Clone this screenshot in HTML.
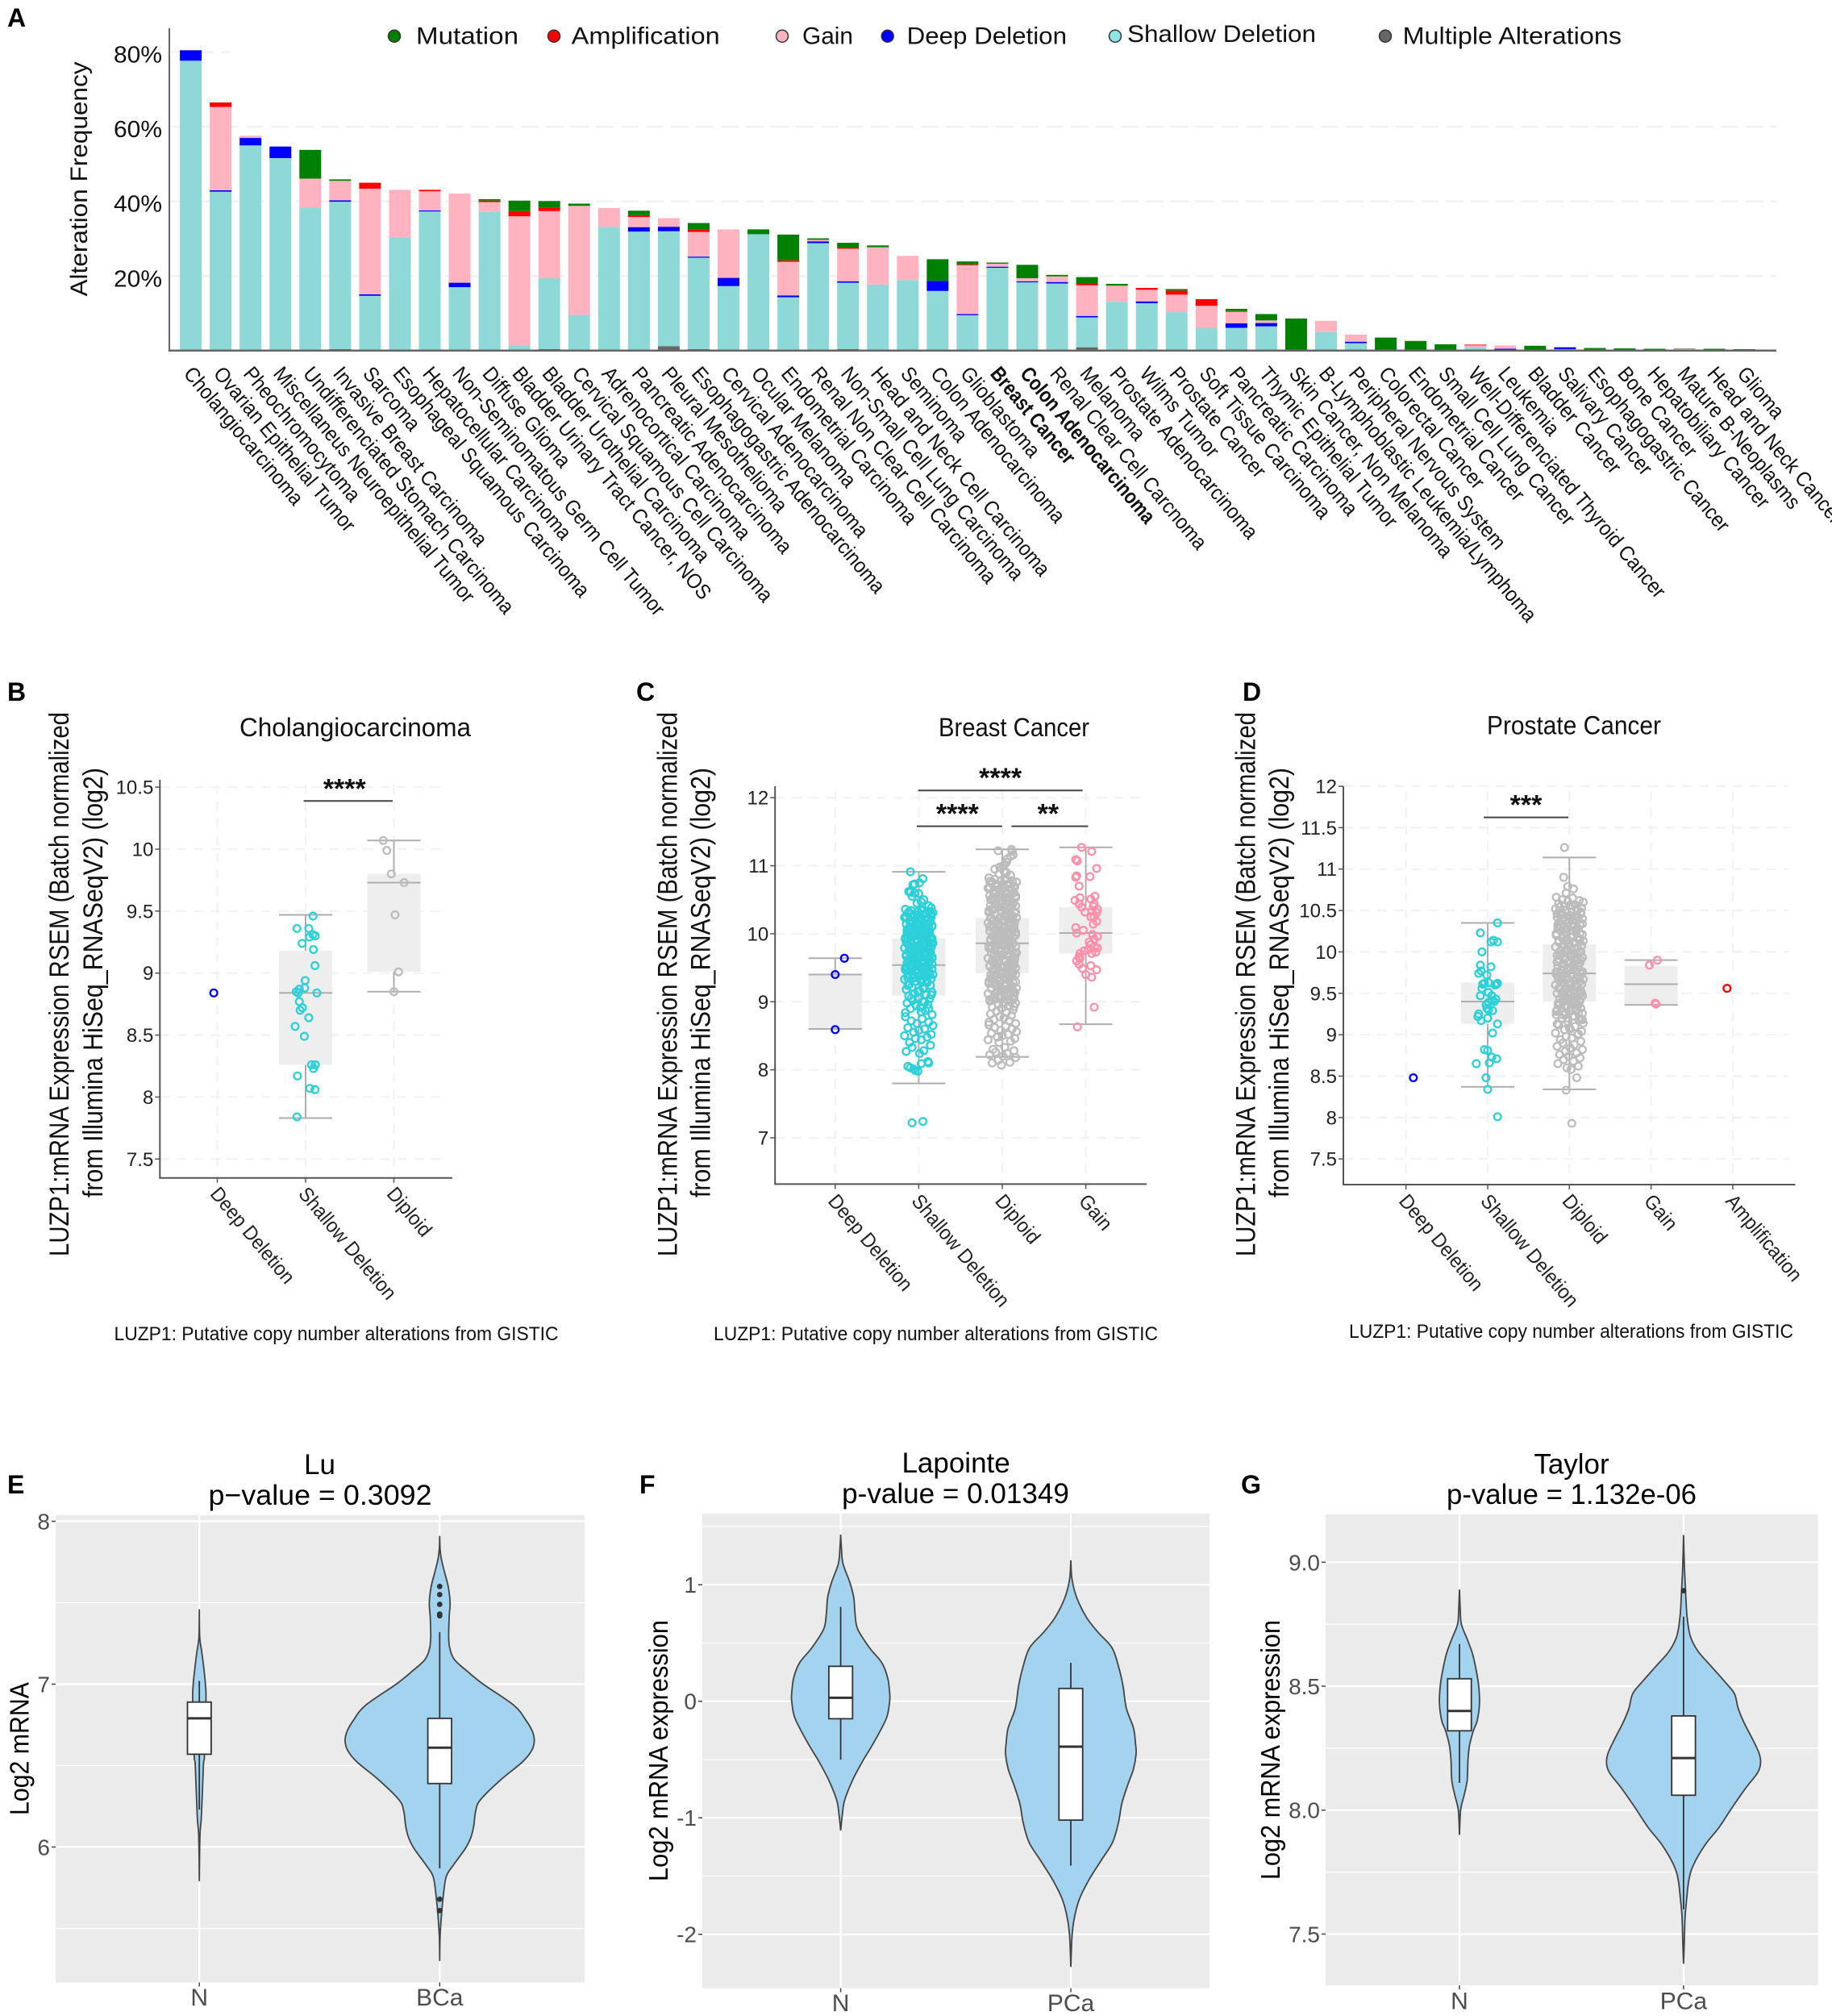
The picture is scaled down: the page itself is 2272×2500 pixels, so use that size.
<!DOCTYPE html>
<html lang="en">
<head>
<meta charset="utf-8">
<title>LUZP1 alteration frequency and expression</title>
<style>
html,body{margin:0;padding:0;background:#fff}
svg{display:block}
text{font-family:"Liberation Sans",Arial,sans-serif}
</style>
</head>
<body>
<svg id="figure" xmlns="http://www.w3.org/2000/svg" width="2272" height="2500" viewBox="0 0 2272 2500"></svg>
<script>
/* ---------- Panel A data ---------- */
const categories = ["Cholangiocarcinoma","Ovarian Epithelial Tumor","Pheochromocytoma","Miscellaneus Neuroepithelial Tumor","Undifferenciated Stomach Carcinoma","Invasive Breast Carcinoma","Sarcoma","Esophageal Squamous Carcinoma","Hepatocellular Carcinoma","Non-Seminomatous Germ Cell Tumor","Diffuse Glioma","Bladder Urinary Tract Cancer, NOS","Bladder Urothelial Carcinoma","Cervical Squamous Cell Carcinoma","Adrenocortical Carcinoma","Pancreatic Adenocarcinoma","Pleural Mesothelioma","Esophagogastric Adenocarcinoma","Cervical  Adenocarcinoma","Ocular Melanoma","Endometrial Carcinoma","Renal Non Clear Cell Carcinoma","Non-Small Cell Lung Carcinoma","Head and Neck Cell Carcinoma","Seminoma","Colon Adenocarcinoma","Glioblastoma","Breast Cancer","Colon Adenocarcinoma","Renal Clear Cell Carcnoma","Melanoma","Prostate Adenocarcinoma","Wilms Tumor","Prostate Cancer","Soft Tissue Carcinoma","Pancreatic Carcinoma","Thymic Epithelial Tumor","Skin Cancer, Non Melanoma","B-Lymphoblastic Leukemia/Lymphoma","Peripheral Nervous System","Colorectal Cancer","Endometrial Cancer","Small Cell Lung Cancer","Well-Differenciated Thyroid Cancer","Leukemia","Bladder Cancer","Salivary  Cancer","Esophagogastric Cancer","Bone Cancer","Hepatobiliary Cancer","Mature B-Neoplasms","Head and Neck Cancer","Glioma"];
const boldCategoryIndexes = [27,28];
const multipleAlterations = [0,0,0,0,0,.4,0,0,0,0,0,0,.4,0,0,0,1.2,.4,0,0,.3,0,.4,0,0,0,0,0,0,0,.9,0,0,0,0,0,0,0,0,0,0,0,0,0,0,0,0,0,0,0,0,0,0];
const shallowDeletion = [77.7,42.6,55,51.6,38.3,39.5,14.7,30.4,37.3,17,37.2,1.4,19,9.6,33.2,31.9,30.8,24.5,17.3,31.2,14,28.8,17.8,17.7,18.9,16,9.5,22.2,18.3,18,8,13.1,12.7,10.3,6,6.1,6.5,0,5,2,0,0,0,.9,0,0,.4,0,0,0,.3,0,0];
const deepDeletion = [2.8,.4,2,3.1,0,.4,.4,0,.3,1.2,0,0,0,0,0,1.2,1.2,.3,2.2,0,.5,.5,.4,0,0,2.7,.3,.3,.3,.4,.4,0,.5,0,0,1.2,.9,0,0,.4,0,0,0,0,.5,0,.5,0,0,0,0,0,0];
const gainValues = [0,22.3,.6,0,7.8,5.2,28.3,12.7,5.1,23.9,2.6,34.6,18,29.2,5,2.7,2.3,6.6,13,0,9,.4,8.7,10,6.5,0,13.1,.8,.8,1.5,8.2,4.3,3.1,4.7,6,3.1,.7,0,3,1.9,0,0,0,.5,.9,0,0,0,0,0,.2,0,0];
const amplificationValues = [0,1.2,0,0,0,0,1.6,0,.4,0,.4,1.4,1,0,0,.5,0,.6,0,0,.4,0,.2,0,0,0,.2,0,0,0,.5,0,.5,1.1,1.8,.2,0,0,0,0,0,0,0,.2,0,0,0,0,0,0,0,0,0];
const mutationValues = [0,0,0,0,7.7,.4,0,0,0,0,.4,2.8,1.7,.6,0,1.2,0,1.8,0,1.3,6.9,.4,1.4,.5,0,5.8,.8,.3,3.6,.4,1.7,.5,0,.4,0,.6,1.7,8.6,0,0,3.5,2.6,1.7,0,0,1.3,0,.7,.6,.5,.1,.5,.4];
const percentTicks = [20,40,60,80];
const legendLabels = ["Mutation","Amplification","Gain","Deep Deletion","Shallow Deletion","Multiple Alterations"];

/* ---------- Panel B data ---------- */
const bTicks = [7.5,8,8.5,9,9.5,10,10.5];
const bCategories = ["Deep Deletion","Shallow Deletion","Diploid"];
const bQ1 = [null,8.26,9.01];
const bMedian = [null,8.84,9.73];
const bQ3 = [null,9.18,9.8];
const bLow = [null,7.83,8.85];
const bHigh = [null,9.47,10.07];
const bDeepValues = [8.84];
const bDeepJitter = [-.04];
const bShallowValues = [9.46,9.36,9.36,9.31,9.30,9.29,9.24,9.19,9.06,8.94,8.88,8.87,8.85,8.84,8.84,8.77,8.72,8.70,8.64,8.57,8.49,8.26,8.26,8.23,8.17,8.07,8.06,7.84];
const bShallowJitter = [.084,-.098,.036,.084,.11,.044,-.04,.089,.106,-.005,-.01,-.071,-.106,-.084,.128,-.071,-.036,-.062,.036,-.119,-.014,.067,.11,.089,-.093,.048,.106,-.098];
const bDiploidValues = [10.07,9.99,9.80,9.73,9.47,9.01,8.85];
const bDiploidJitter = [-.12,-.08,-.03,.115,.013,.053,0];

/* ---------- Panel C data ---------- */
const cTicks = [7,8,9,10,11,12];
const cCategories = ["Deep Deletion","Shallow Deletion","Diploid","Gain"];
const cQ1 = [8.6,9.09,9.42,9.71];
const cMedian = [9.4,9.54,9.86,10.01];
const cQ3 = [9.4,9.93,10.23,10.39];
const cLow = [8.6,7.8,8.19,8.67];
const cHigh = [9.64,10.91,11.24,11.27];
const cDeepValues = [9.64,9.40,8.59];
const cDeepJitter = [.11,0,0];
const cloudJitter = [-.16,.04,-.09,.12,-.02,.17,-.13,.07,0,-.06,.15,-.17,.10,-.04,.03,-.11,.14,-.08,.06,-.15,.01,.16,-.05,.09,-.12,-.01,.13,-.07,.05,-.14,.11,-.03,.02,-.10,.08,-.16,.16];
const coreJitter = [.03,-.12,.09,-.05,.14,-.15,.01,.11,-.08,.06,-.02,.16,-.11,.04,-.14,.08,-.04,.13,-.07,.02,.10,-.13,.05,-.01,.15,-.09,.07,-.03,.12];
const cShallowTopValues = [10.91,10.81,10.75,10.73,10.72,10.62,10.61,10.60,10.59,10.55,10.50,10.47,10.45,10.41,10.38];
const cShallowTopJitter = [-.10,.05,.01,-.05,-.07,-.12,-.10,-.05,0,-.08,.06,.03,-.02,.12,.15];
const cShallowBottomValues = [8.12,8.10,8.09,8.05,8.03,8.01,7.99,7.98,7.24,7.22];
const cShallowBottomJitter = [.11,.12,.03,-.13,-.10,-.06,-.04,-.01,.05,-.08];
const cShallowValues = [10.36,10.35,10.34,10.33,10.32,10.31,10.30,10.29,10.28,10.26,10.25,10.24,10.23,10.21,10.20,10.19,10.18,10.17,10.15,10.14,10.13,10.11,10.10,10.09,10.08,10.07,10.05,10.04,10.03,10.02,10.00,9.99,9.98,9.97,9.96,9.94,9.93,9.92,9.91,9.90,9.88,9.87,9.86,9.85,9.84,9.82,9.81,9.80,9.79,9.77,9.76,9.75,9.74,9.73,9.71,9.70,9.69,9.68,9.66,9.65,9.64,9.63,9.62,9.60,9.59,9.58,9.57,9.55,9.54,9.53,9.52,9.50,9.49,9.48,9.47,9.45,9.44,9.43,9.42,9.40,9.39,9.38,9.37,9.35,9.34,9.33,9.31,9.30,9.28,9.26,9.24,9.22,9.20,9.18,9.16,9.14,9.12,9.10,9.08,9.06,9.04,9.02,9.00,8.98,8.96,8.94,8.92,8.90,8.87,8.84,8.81,8.78,8.75,8.72,8.70,8.68,8.65,8.62,8.60,8.58,8.55,8.52,8.50,8.48,8.46,8.44,8.40,8.36,8.33,8.28,8.27,8.24];
const cShallowCoreValues = [10.34,10.32,10.30,10.28,10.27,10.25,10.22,10.20,10.18,10.16,10.14,10.12,10.10,10.08,10.06,10.04,10.02,10.00,9.98,9.96,9.95,9.93,9.91,9.89,9.87,9.85,9.83,9.81,9.79,9.77,9.75,9.73,9.71,9.69,9.67,9.65,9.63,9.61,9.59,9.57,9.55,9.53,9.51,9.49,9.47,9.45,9.43,9.41,9.39,9.37,9.35,9.33,10.33,10.29,10.24,10.21,10.17,10.13,10.09,10.05,10.01,9.97,9.92,9.88,9.84,9.80,9.76,9.72,9.68,9.64,9.60,9.56,9.52,9.48,9.44,9.40,9.36,9.32,9.28,9.24,9.20,9.15,9.10,9.05,9.00,8.95,8.90,8.85];
const cDiploidTopValues = [11.24,11.22,11.21,11.16,11.14,11.10,11.05,11.02,11.00,10.98,10.95,10.92,10.90,10.88,10.86];
const cDiploidTopJitter = [.11,-.05,.12,.13,.10,.06,.05,.03,.01,-.03,-.09,.02,.05,-.04,.10];
const cDiploidValues = [10.82,10.81,10.80,10.78,10.77,10.76,10.74,10.73,10.72,10.70,10.69,10.67,10.66,10.65,10.63,10.62,10.60,10.59,10.58,10.56,10.55,10.53,10.52,10.51,10.49,10.48,10.46,10.45,10.44,10.42,10.41,10.39,10.38,10.37,10.35,10.34,10.32,10.31,10.30,10.28,10.27,10.25,10.24,10.23,10.21,10.20,10.18,10.17,10.16,10.14,10.13,10.11,10.10,10.09,10.07,10.06,10.04,10.03,10.02,10.00,9.99,9.97,9.96,9.95,9.93,9.92,9.90,9.89,9.88,9.86,9.85,9.83,9.82,9.81,9.79,9.78,9.76,9.75,9.74,9.72,9.71,9.69,9.68,9.67,9.65,9.64,9.62,9.61,9.60,9.58,9.57,9.55,9.54,9.53,9.51,9.50,9.48,9.47,9.46,9.44,9.43,9.41,9.40,9.39,9.37,9.36,9.34,9.33,9.32,9.30,9.29,9.27,9.26,9.25,9.23,9.22,9.20,9.19,9.18,9.16,9.15,9.13,9.12,9.11,9.09,9.08,9.06,9.05,9.04,9.02,9.01,8.99,8.98,8.96,8.94,8.92,8.90,8.88,8.86,8.84,8.82,8.80,8.78,8.76,8.74,8.72,8.70,8.68,8.66,8.64,8.62,8.60,8.58,8.56,8.54,8.52,8.50,8.48,8.46,8.44,8.42,8.40,8.33,8.30,8.28,8.26,8.24,8.22,8.20,8.18,8.14,8.11,8.10,8.07];
const cDiploidCoreValues = [10.78,10.76,10.74,10.72,10.70,10.68,10.66,10.64,10.62,10.60,10.58,10.56,10.54,10.52,10.50,10.48,10.46,10.44,10.42,10.40,10.38,10.36,10.34,10.32,10.30,10.28,10.26,10.24,10.22,10.20,10.18,10.16,10.14,10.12,10.10,10.08,10.06,10.04,10.02,10.00,9.98,9.96,9.94,9.92,9.90,9.88,9.86,9.84,9.82,9.80,9.78,9.76,9.74,9.72,9.70,9.68,9.66,9.64,9.62,9.60,9.58,9.56,9.54,9.52,9.50,9.48,9.46,9.44,9.42,9.40,9.38,9.36,9.34,9.32,9.30,9.28,9.26,9.24,9.22,9.20,9.18,9.16,9.14,9.12,9.10,9.08,9.06,9.04,9.02,9.00,8.97,8.93,10.77,10.71,10.65,10.59,10.53,10.47,10.41,10.35,10.29,10.23,10.17,10.11,10.05,9.99,9.93,9.87,9.81,9.75,9.69,9.63,9.57,9.51,9.45,9.39,9.33,9.27,9.21,9.15,9.09,9.03];
const cGainValues = [11.27,11.21,11.09,11.07,10.96,10.85,10.83,10.84,10.70,10.55,10.51,10.53,10.49,10.44,10.39,10.44,10.40,10.36,10.32,10.33,10.31,10.25,10.25,10.18,10.14,10.09,10.05,10.01,9.99,9.96,9.92,9.88,9.84,9.81,9.79,9.77,9.75,9.71,9.73,9.66,9.71,9.60,9.64,9.55,9.49,9.53,9.47,9.40,9.36,8.92,8.63];
const cGainJitter = [-.05,.07,-.12,-.10,.13,-.11,-.12,.05,-.08,.11,.06,-.07,-.13,-.08,-.05,.10,.09,.14,-.01,.07,.13,.06,.10,.13,.09,-.12,-.03,-.11,.08,.14,.10,.04,.06,.11,.14,.03,-.02,-.07,.12,-.08,.07,-.11,-.07,-.08,-.04,.06,.13,0,.07,.10,-.10];

/* ---------- Panel D data ---------- */
const dTicks = [7.5,8,8.5,9,9.5,10,10.5,11,11.5,12];
const dCategories = ["Deep Deletion","Shallow Deletion","Diploid","Gain","Amplification"];
const dQ1 = [null,9.13,9.40,9.36,null];
const dMedian = [null,9.40,9.74,9.61,null];
const dQ3 = [null,9.63,10.09,9.83,null];
const dLow = [null,8.37,8.34,9.36,null];
const dHigh = [null,10.35,11.14,9.90,null];
const dDeepValues = [8.48];
const dDeepJitter = [.09];
const dShallowValues = [10.35,10.23,10.12,10.14,10.12,10,9.84,9.82,9.74,9.77,9.72,9.62,9.63,9.61,9.61,9.62,9.60,9.56,9.47,9.51,9.47,9.43,9.41,9.39,9.36,9.40,9.32,9.30,9.29,9.25,9.22,9.17,9.20,9.13,9.02,8.82,8.81,8.73,8.71,8.65,8.66,8.48,8.34,8.01];
const dShallowJitter = [.12,-.09,.04,.07,.12,-.07,-.09,.04,-.11,-.08,-.01,-.04,.01,-.06,.11,.12,.09,-.07,-.09,.01,.05,.10,.05,.01,-.02,.08,-.01,.01,.06,-.11,-.12,-.08,0,.12,.06,-.04,0,.05,.11,-.14,.02,-.02,0,.12];
const dDiploidExtraValues = [11.26,10.90,10.79,10.76,10.71,8.48,8.33,7.93];
const dDiploidExtraJitter = [-.06,-.07,-.02,.05,-.04,.09,-.04,.03];
const dDiploidValues = [10.66,10.65,10.63,10.62,10.61,10.60,10.58,10.57,10.56,10.55,10.53,10.52,10.51,10.50,10.48,10.47,10.46,10.45,10.43,10.42,10.41,10.40,10.38,10.37,10.36,10.35,10.33,10.32,10.31,10.30,10.28,10.27,10.26,10.25,10.23,10.22,10.21,10.20,10.18,10.17,10.16,10.15,10.13,10.12,10.11,10.10,10.08,10.07,10.06,10.05,10.03,10.02,10.01,10.00,9.98,9.97,9.96,9.95,9.93,9.92,9.91,9.90,9.88,9.87,9.86,9.85,9.83,9.82,9.81,9.80,9.78,9.77,9.76,9.75,9.73,9.72,9.71,9.70,9.68,9.67,9.66,9.65,9.63,9.62,9.61,9.60,9.58,9.57,9.56,9.55,9.53,9.52,9.51,9.50,9.48,9.47,9.46,9.45,9.43,9.42,9.41,9.40,9.38,9.37,9.36,9.35,9.33,9.32,9.30,9.28,9.26,9.24,9.22,9.20,9.18,9.16,9.14,9.12,9.10,9.08,9.06,9.04,9.02,9.00,8.98,8.96,8.94,8.92,8.90,8.88,8.86,8.84,8.82,8.80,8.78,8.76,8.74,8.72,8.70,8.68,8.65,8.62,8.60,8.58];
const dDiploidCoreValues = [10.56,10.54,10.52,10.50,10.48,10.46,10.44,10.42,10.40,10.38,10.36,10.34,10.32,10.30,10.28,10.26,10.24,10.22,10.20,10.18,10.16,10.14,10.12,10.10,10.08,10.06,10.04,10.02,10.00,9.98,9.96,9.94,9.92,9.90,9.88,9.86,9.84,9.82,9.80,9.78,9.76,9.74,9.72,9.70,9.68,9.66,9.64,9.62,9.60,9.58,9.56,9.54,9.52,9.50,9.48,9.46,9.44,9.42,9.40,9.38,9.36,9.34,9.32,9.30,9.28,9.26,9.24,9.22,9.20,9.18,10.45,10.39,10.33,10.27,10.21,10.15,10.09,10.03,9.97,9.91,9.85,9.79,9.73,9.67,9.61,9.55,9.49,9.43,9.37,9.31,9.25,9.19,9.13,9.07,9.01];
const dGainValues = [9.90,9.84,9.38,9.37];
const dGainJitter = [.077,-.02,.05,.06];
const dAmpValues = [9.56];
const dAmpJitter = [-.07];

/* ---------- Panel E data ---------- */
const eTicks = [6,7,8];
const eMinorTicks = [5.5,6.5,7.5];
const eNValues = [7.46,7.29,7.20,7.11,6.99,6.89,6.57,6.52,6.41,6.29,6.17,6.06,5.79];
const eNDensity = [0,.004,.025,.045,.066,.07,.055,.045,.037,.029,.02,.006,0];
const eTumorValues = [7.91,7.83,7.77,7.69,7.60,7.50,7.41,7.29,7.22,7.15,7.08,7.00,6.87,6.78,6.71,6.65,6.59,6.52,6.41,6.29,6.22,6.13,6.06,5.99,5.89,5.82,5.71,5.59,5.45,5.30];
const eTumorDensity = [0,.004,.017,.05,.09,.11,.10,.095,.107,.157,.29,.46,.785,.91,.98,1,.97,.87,.64,.43,.38,.36,.33,.27,.145,.07,.04,.02,.004,0];
const eNBox = [6.23,6.57,6.79,6.89,7.02];
const eTumorBox = [5.87,6.39,6.61,6.79,7.32];
const eTumorOutliers = [7.60,7.55,7.49,7.43,7.42,5.68,5.61];

/* ---------- Panel F data ---------- */
const fTicks = [-2,-1,0,1];
const fMinorTicks = [-1.5,-.5,.5,1.5];
const fNValues = [1.43,1.31,1.18,1.02,.89,.75,.62,.46,.33,.20,.07,0,-.13,-.26,-.39,-.52,-.68,-.85,-.98,-1.11];
const fNDensity = [0,.012,.036,.14,.20,.22,.26,.44,.63,.72,.75,.75,.71,.60,.47,.33,.18,.06,.024,0];
const fTumorValues = [1.21,1.05,.89,.72,.59,.46,.30,.13,-.06,-.23,-.36,-.45,-.58,-.72,-.88,-1.04,-1.21,-1.37,-1.53,-1.70,-1.86,-2.02,-2.28];
const fTumorDensity = [0,.018,.09,.24,.42,.63,.73,.80,.85,.96,.99,1,.96,.87,.78,.73,.64,.46,.28,.13,.054,.018,0];
const fNBox = [-.50,-.15,.03,.30,.81];
const fTumorBox = [-1.41,-1.02,-.39,.11,.33];

/* ---------- Panel G data ---------- */
const gTicks = [7.5,8,8.5,9];
const gMinorTicks = [7.75,8.25,8.75];
const gNValues = [8.89,8.81,8.75,8.69,8.63,8.56,8.50,8.43,8.36,8.32,8.26,8.20,8.12,8.06,8.0,7.90];
const gNDensity = [0,.01,.025,.10,.17,.22,.25,.26,.23,.18,.13,.11,.10,.06,.015,0];
const gTumorValues = [9.11,8.99,8.89,8.78,8.70,8.64,8.58,8.52,8.47,8.41,8.35,8.29,8.23,8.19,8.15,8.09,8.01,7.93,7.86,7.78,7.72,7.64,7.57,7.47,7.38];
const gTumorDensity = [0,.01,.025,.046,.09,.19,.36,.53,.66,.71,.79,.89,.98,1,.96,.81,.63,.46,.28,.13,.07,.04,.02,.01,0];
const gNBox = [8.11,8.32,8.40,8.53,8.67];
const gTumorBox = [7.60,8.06,8.21,8.38,8.78];
const gTumorOutliers = [8.885];

/* ---------- helpers ---------- */
const NS = 'http://www.w3.org/2000/svg';
const root = document.getElementById('figure');
function add(parent, tag, attrs, content) {
  const n = document.createElementNS(NS, tag);
  for (const k in attrs) n.setAttribute(k, attrs[k]);
  if (content !== undefined) n.textContent = content;
  parent.appendChild(n);
  return n;
}
function slug(s) { return String(s).toLowerCase().replace(/[^a-z0-9]+/g, '-').replace(/^-|-$/g, ''); }
function group(name) {
  const g = add(root, 'g', {});
  
  
  return g;
}
function label(parent, name, s, x, y, opt) {
  const o = opt || {};
  const a = { x: x, y: y, 'font-size': o.size || 24, fill: o.fill || '#111' };
  if (o.anchor) a['text-anchor'] = o.anchor;
  if (o.weight) a['font-weight'] = o.weight;
  if (o.len) { a.textLength = o.len; a.lengthAdjust = 'spacingAndGlyphs'; }
  if (o.squeeze) {
    a.x = 0;
    a.y = 0;
    a.transform = 'translate(' + x + ' ' + y + ') rotate(' + o.rot + ') scale(' + o.squeeze + ' 1)';
  } else if (o.rot !== undefined) {
    a.transform = 'rotate(' + o.rot + ' ' + x + ' ' + y + ')';
  }
  const t = add(parent, 'text', a, s);
  
  
  return t;
}

/* ---------- Panel A ---------- */
(function () {
  const g = group('alteration-frequency-panel');
  const xA = i => 236.6 + i * 37.05;
  const yA = v => 434.8 - v * 4.627;
  label(g, 'panel-letter-a', 'A', 9, 33, { size: 32, weight: 'bold', fill: '#000' });
  percentTicks.forEach(t => {
    const full = t < 80;
    const line = add(g, 'line', { x1: 212, x2: full ? 2203 : 284, y1: yA(t), y2: yA(t), stroke: '#f2f2f2', 'stroke-width': 2.5, 'stroke-dasharray': '22 9' });
    
    
    label(g, 'y-tick-label-' + t, t + '%', 201, yA(t) + 13, { size: 29, anchor: 'end', len: 60 });
  });
  const seriesNames = ['multiple-alterations', 'shallow-deletion', 'deep-deletion', 'gain', 'amplification', 'mutation'];
  const seriesValues = [multipleAlterations, shallowDeletion, deepDeletion, gainValues, amplificationValues, mutationValues];
  const seriesColors = ['#666666', '#8fd8d8', '#0000ff', '#ffb3c1', '#ff0000', '#008000'];
  categories.forEach((c, i) => {
    let acc = 0;
    seriesValues.forEach((vals, s) => {
      const v = vals[i];
      if (!v) return;
      const r = add(g, 'rect', { x: xA(i) - 13.5, width: 27, y: yA(acc + v), height: yA(acc) - yA(acc + v), fill: seriesColors[s] });
      
      
      acc += v;
    });
    const opts = { size: 26, fill: '#111', rot: 50, squeeze: .905 };
    if (boldCategoryIndexes.indexOf(i) >= 0) { opts.weight = 'bold'; opts.squeeze = .84; }
    label(g, 'category-label-' + slug(c), c, xA(i) - 10, 464, opts);
  });
  const yAxis = add(g, 'line', { x1: 210, x2: 210, y1: 35, y2: 436, stroke: '#666', 'stroke-width': 2 });
  
  
  const xAxis = add(g, 'line', { x1: 209, x2: 2203, y1: 434.8, y2: 434.8, stroke: '#666', 'stroke-width': 2.5 });
  
  
  label(g, 'y-axis-title', 'Alteration Frequency', 108, 222, { size: 30, anchor: 'middle', len: 291, rot: -90 });
  const dotX = [489, 687, 970, 1100.7, 1383, 1718];
  const textX = [516, 708.7, 995, 1124.6, 1398, 1739.6];
  const textW = [127, 184, 63, 198.4, 234, 271.4];
  const textY = [54.7, 54.7, 54.7, 54.7, 52, 54.7];
  const dotC = ['#008000', '#ff0000', '#ffb3c1', '#0000ff', '#8fe6e6', '#666666'];
  legendLabels.forEach((l, i) => {
    const d = add(g, 'circle', { cx: dotX[i], cy: 44.8, r: 7.5, fill: dotC[i], stroke: '#333', 'stroke-width': 1.5 });
    
    
    label(g, 'legend-entry-' + slug(l), l, textX[i], textY[i], { size: 30, len: textW[i] });
  });
})();

/* ---------- Panels B C D ---------- */
const TEAL = '#2bd0d8', GRAY = '#bcbcbc', PINK = '#ff8fa8', BLUE = '#0000ff', RED = '#ff0000';
function boxPanel(c) {
  const g = group(c.name);
  const y = c.y;
  const x = i => c.catX0 + i * c.catStep;
  label(g, 'panel-letter-' + c.letter.toLowerCase(), c.letter, c.letterX, 869, { size: 32, weight: 'bold', fill: '#000' });
  label(g, 'chart-title', c.title, c.titleX, c.titleY, { size: 32, anchor: 'middle', len: c.titleW });
  label(g, 'y-axis-title-line-1', 'LUZP1:mRNA Expression RSEM (Batch normalized', c.l1, 1220.5, { size: 34, anchor: 'middle', len: 675, rot: -90 });
  label(g, 'y-axis-title-line-2', 'from Illumina HiSeq_RNASeqV2) (log2)', c.l2, 1218.5, { size: 34, anchor: 'middle', len: 533, rot: -90 });
  label(g, 'x-axis-title', 'LUZP1: Putative copy number alterations from GISTIC', c.xtX, c.xtY, { size: 24, len: 551 });
  c.ticks.forEach(t => {
    const gl = add(g, 'line', { x1: c.axisX, x2: c.axisR - 8, y1: y(t), y2: y(t), stroke: '#f2f2f2', 'stroke-width': 2, 'stroke-dasharray': '12 9' });
    
    
    const tk = add(g, 'line', { x1: c.axisX - 6, x2: c.axisX, y1: y(t), y2: y(t), stroke: '#555', 'stroke-width': 1.5 });
    
    
    label(g, 'y-tick-label-' + t, String(t), c.axisX - 8, y(t) + 8.5, { size: 24, anchor: 'end', fill: '#222' });
  });
  c.cats.forEach((n, i) => {
    const gl = add(g, 'line', { x1: x(i), x2: x(i), y1: c.top + 6, y2: c.base, stroke: '#f2f2f2', 'stroke-width': 2, 'stroke-dasharray': '12 9' });
    
    
  });
  c.cats.forEach((n, i) => {
    if (c.q1[i] !== null) {
      const b = add(g, 'rect', { x: x(i) - 33, width: 66, y: y(c.q3[i]), height: y(c.q1[i]) - y(c.q3[i]), fill: '#eeeeee' });
      
      
      const parts = [[x(i), y(c.high[i]), x(i), y(c.q3[i])], [x(i), y(c.q1[i]), x(i), y(c.low[i])], [x(i) - 33, y(c.high[i]), x(i) + 33, y(c.high[i])], [x(i) - 33, y(c.low[i]), x(i) + 33, y(c.low[i])], [x(i) - 33, y(c.med[i]), x(i) + 33, y(c.med[i])]];
      parts.forEach((p, k) => {
        const l = add(g, 'line', { x1: p[0], y1: p[1], x2: p[2], y2: p[3], stroke: '#aeaeae', 'stroke-width': 2 });
        
        
      });
    }
  });
  c.points.forEach(p => {
    p.values.forEach((v, i) => {
      const j = p.jitter[i % p.jitter.length];
      const pt = add(g, 'circle', { cx: x(p.cat) + j * c.catStep, cy: y(v), r: 4.4, fill: 'none', stroke: p.color, 'stroke-width': 2.3 });
      
      
    });
  });
  const yl = add(g, 'line', { x1: c.axisX, x2: c.axisX, y1: c.top, y2: c.base + 1, stroke: '#555', 'stroke-width': 2 });
  
  
  const xl = add(g, 'line', { x1: c.axisX, x2: c.axisR, y1: c.base, y2: c.base, stroke: '#555', 'stroke-width': 2 });
  
  
  c.cats.forEach((n, i) => {
    const tk = add(g, 'line', { x1: x(i), x2: x(i), y1: c.base, y2: c.base + 6, stroke: '#555', 'stroke-width': 1.5 });
    
    
    label(g, 'x-tick-label-' + slug(n), n, x(i) - 10, c.xLabY, { size: 25, rot: 50, fill: '#222', squeeze: .93 });
  });
  c.brackets.forEach((b, i) => {
    const l = add(g, 'line', { x1: b[0], x2: b[1], y1: b[2], y2: b[2], stroke: '#444', 'stroke-width': 2 });
    
    
    label(g, 'significance-stars-' + (i + 1), b[3], (b[0] + b[1]) / 2 + (b[4] || 0), b[2] - 4, { size: 34, anchor: 'middle', fill: '#111', weight: 'bold' });
  });
}
boxPanel({
  name: 'cholangiocarcinoma-boxplot', letter: 'B', letterX: 9, title: 'Cholangiocarcinoma', titleX: 440.5, titleY: 913, titleW: 287,
  l1: 85, l2: 127, xtX: 141.5, xtY: 1662, axisX: 198.3, axisR: 561, base: 1460.7, top: 967, catX0: 269.5, catStep: 109.5,
  y: v => 1206.7 - (v - 9) * 153.7, ticks: bTicks, cats: bCategories, q1: bQ1, med: bMedian, q3: bQ3, low: bLow, high: bHigh, xLabY: 1481,
  points: [{ cat: 0, values: bDeepValues, jitter: bDeepJitter, color: BLUE }, { cat: 1, values: bShallowValues, jitter: bShallowJitter, color: TEAL }, { cat: 2, values: bDiploidValues, jitter: bDiploidJitter, color: GRAY }],
  brackets: [[376.6, 487, 993.3, '****', -4.5]]
});
boxPanel({
  name: 'breast-cancer-boxplot', letter: 'C', letterX: 789, title: 'Breast Cancer', titleX: 1257.5, titleY: 913, titleW: 187,
  l1: 839.5, l2: 880.7, xtX: 885, xtY: 1662, axisX: 961.2, axisR: 1422, base: 1468.4, top: 975, catX0: 1035.8, catStep: 103.6,
  y: v => 1157.9 - (v - 10) * 84.35, ticks: cTicks, cats: cCategories, q1: cQ1, med: cMedian, q3: cQ3, low: cLow, high: cHigh, xLabY: 1490,
  points: [{ cat: 0, values: cDeepValues, jitter: cDeepJitter, color: BLUE }, { cat: 1, values: cShallowValues, jitter: cloudJitter, color: TEAL }, { cat: 1, values: cShallowCoreValues, jitter: coreJitter, color: TEAL }, { cat: 1, values: cShallowTopValues, jitter: cShallowTopJitter, color: TEAL }, { cat: 1, values: cShallowBottomValues, jitter: cShallowBottomJitter, color: TEAL }, { cat: 2, values: cDiploidValues, jitter: cloudJitter, color: GRAY }, { cat: 2, values: cDiploidCoreValues, jitter: coreJitter, color: GRAY }, { cat: 2, values: cDiploidTopValues, jitter: cDiploidTopJitter, color: GRAY }, { cat: 3, values: cGainValues, jitter: cGainJitter, color: PINK }],
  brackets: [[1138.6, 1342.6, 980.2, '****', 0], [1137, 1242.8, 1024.6, '****', -2.5], [1254.4, 1349.4, 1024.6, '**', -2]]
});
boxPanel({
  name: 'prostate-cancer-boxplot', letter: 'D', letterX: 1541, title: 'Prostate Cancer', titleX: 1952, titleY: 910.5, titleW: 216,
  l1: 1556.6, l2: 1597.8, xtX: 1673, xtY: 1659, axisX: 1666, axisR: 2226.5, base: 1469, top: 975, catX0: 1743.7, catStep: 101.3,
  y: v => 1180.4 - (v - 10) * 102.7, ticks: dTicks, cats: dCategories, q1: dQ1, med: dMedian, q3: dQ3, low: dLow, high: dHigh, xLabY: 1490,
  points: [{ cat: 0, values: dDeepValues, jitter: dDeepJitter, color: BLUE }, { cat: 1, values: dShallowValues, jitter: dShallowJitter, color: TEAL }, { cat: 2, values: dDiploidValues, jitter: cloudJitter, color: GRAY }, { cat: 2, values: dDiploidCoreValues, jitter: coreJitter, color: GRAY }, { cat: 2, values: dDiploidExtraValues, jitter: dDiploidExtraJitter, color: GRAY }, { cat: 3, values: dGainValues, jitter: dGainJitter, color: PINK }, { cat: 4, values: dAmpValues, jitter: dAmpJitter, color: RED }],
  brackets: [[1840, 1945, 1013.6, '***', 0]]
});

/* ---------- Panels E F G ---------- */
function violinPath(cx, y, vals, dens, scale) {
  const right = vals.map((v, i) => [cx + dens[i] * scale, y(v)]);
  const left = vals.map((v, i) => [cx - dens[i] * scale, y(v)]).reverse();
  function seg(p) {
    let d = '';
    for (let i = 0; i < p.length - 1; i++) {
      const a = p[Math.max(i - 1, 0)], b = p[i], e = p[i + 1], f = p[Math.min(i + 2, p.length - 1)];
      d += 'C' + (b[0] + (e[0] - a[0]) / 6).toFixed(2) + ' ' + (b[1] + (e[1] - a[1]) / 6).toFixed(2) + ' ' + (e[0] - (f[0] - b[0]) / 6).toFixed(2) + ' ' + (e[1] - (f[1] - b[1]) / 6).toFixed(2) + ' ' + e[0].toFixed(2) + ' ' + e[1].toFixed(2);
    }
    return d;
  }
  return 'M' + right[0][0] + ' ' + right[0][1] + seg(right) + seg(left) + 'Z';
}
function violinPanel(c) {
  const g = group(c.name);
  const y = c.y;
  label(g, 'panel-letter-' + c.letter.toLowerCase(), c.letter, c.letterX, 1852, { size: 32, weight: 'bold', fill: '#000' });
  label(g, 'chart-title', c.title, c.titleX, c.title1Y, { size: 35, anchor: 'middle', fill: '#000' });
  label(g, 'p-value-subtitle', c.pText, c.pX, c.pY, { size: 35, anchor: 'middle', len: c.pW, fill: '#000' });
  label(g, 'y-axis-title', c.yTitle, c.ylX, c.ylC, { size: 33, anchor: 'middle', len: c.ylW, rot: -90, fill: '#000' });
  const bg = add(g, 'rect', { x: c.x0, y: c.y0, width: c.x1 - c.x0, height: c.y1 - c.y0, fill: '#ebebeb' });
  
  
  c.minor.forEach(t => {
    const l = add(g, 'line', { x1: c.x0, x2: c.x1, y1: y(t), y2: y(t), stroke: '#fff', 'stroke-width': 1.2 });
    
    
  });
  c.ticks.forEach(t => {
    const l = add(g, 'line', { x1: c.x0, x2: c.x1, y1: y(t), y2: y(t), stroke: '#fff', 'stroke-width': 2.2 });
    
    
    const k = add(g, 'line', { x1: c.x0 - 5, x2: c.x0, y1: y(t), y2: y(t), stroke: '#444', 'stroke-width': 1.5 });
    
    
    label(g, 'y-tick-label-' + t, c.fmt(t), c.x0 - 7, y(t) + 10, { size: 28, anchor: 'end', fill: '#4d4d4d' });
  });
  c.groups.forEach(v => {
    const gl = add(g, 'line', { x1: v.x, x2: v.x, y1: c.y0, y2: c.y1, stroke: '#fff', 'stroke-width': 2.2 });
    
    
    const k = add(g, 'line', { x1: v.x, x2: v.x, y1: c.y1, y2: c.y1 + 5, stroke: '#444', 'stroke-width': 1.5 });
    
    
    label(g, 'x-tick-label-' + slug(v.name), v.name, v.x, c.xLabY, { size: 30, anchor: 'middle', fill: '#4d4d4d' });
  });
  c.groups.forEach(v => {
    const p = add(g, 'path', { d: violinPath(v.x, y, v.values, v.density, c.scale), fill: '#a3d3ee', stroke: '#444', 'stroke-width': 1.8 });
    
    
    const w = add(g, 'line', { x1: v.x, x2: v.x, y1: y(v.box[4]), y2: y(v.box[0]), stroke: '#333', 'stroke-width': 1.8 });
    
    
    const b = add(g, 'rect', { x: v.x - 14.7, width: 29.4, y: y(v.box[3]), height: y(v.box[1]) - y(v.box[3]), fill: '#fff', stroke: '#333', 'stroke-width': 1.8 });
    
    
    const m = add(g, 'line', { x1: v.x - 14.7, x2: v.x + 14.7, y1: y(v.box[2]), y2: y(v.box[2]), stroke: '#333', 'stroke-width': 3 });
    
    
    (v.outliers || []).forEach(o => {
      const d = add(g, 'circle', { cx: v.x, cy: y(o), r: 3.4, fill: '#333' });
      
      
    });
  });
}
violinPanel({
  name: 'lu-violin-plot', letter: 'E', letterX: 9, title: 'Lu', titleX: 396.5, title1Y: 1828, pText: 'p\u2212value = 0.3092', pX: 397, pY: 1866, pW: 277,
  yTitle: 'Log2 mRNA', ylX: 35.4, ylC: 2168.5, ylW: 165, x0: 69, x1: 725, y0: 1879, y1: 2458.4, xLabY: 2487, scale: 117.3,
  y: v => 2088.5 - (v - 7) * 202, ticks: eTicks, minor: eMinorTicks, fmt: t => String(t),
  groups: [{ name: 'N', x: 247.2, values: eNValues, density: eNDensity, box: eNBox }, { name: 'BCa', x: 545.3, values: eTumorValues, density: eTumorDensity, box: eTumorBox, outliers: eTumorOutliers }]
});
violinPanel({
  name: 'lapointe-violin-plot', letter: 'F', letterX: 793, title: 'Lapointe', titleX: 1185.6, title1Y: 1826, pText: 'p-value = 0.01349', pX: 1185, pY: 1864, pW: 281.7,
  yTitle: 'Log2 mRNA expression', ylX: 828, ylC: 2171, ylW: 324, x0: 871, x1: 1500, y0: 1877, y1: 2465.5, xLabY: 2494, scale: 81,
  y: v => 2109.7 - v * 144.5, ticks: fTicks, minor: fMinorTicks, fmt: t => String(t),
  groups: [{ name: 'N', x: 1042.6, values: fNValues, density: fNDensity, box: fNBox }, { name: 'PCa', x: 1328, values: fTumorValues, density: fTumorDensity, box: fTumorBox }]
});
violinPanel({
  name: 'taylor-violin-plot', letter: 'G', letterX: 1539, title: 'Taylor', titleX: 1949, title1Y: 1827.5, pText: 'p-value = 1.132e-06', pX: 1949, pY: 1865, pW: 310,
  yTitle: 'Log2 mRNA expression', ylX: 1587, ylC: 2170, ylW: 322, x0: 1644, x1: 2254.6, y0: 1878, y1: 2462, xLabY: 2491.5, scale: 95.5,
  y: v => 2244.7 - (v - 8) * 307.4, ticks: gTicks, minor: gMinorTicks, fmt: t => t.toFixed(1),
  groups: [{ name: 'N', x: 1810, values: gNValues, density: gNDensity, box: gNBox }, { name: 'PCa', x: 2087.9, values: gTumorValues, density: gTumorDensity, box: gTumorBox, outliers: gTumorOutliers }]
});
</script>
</body>
</html>
